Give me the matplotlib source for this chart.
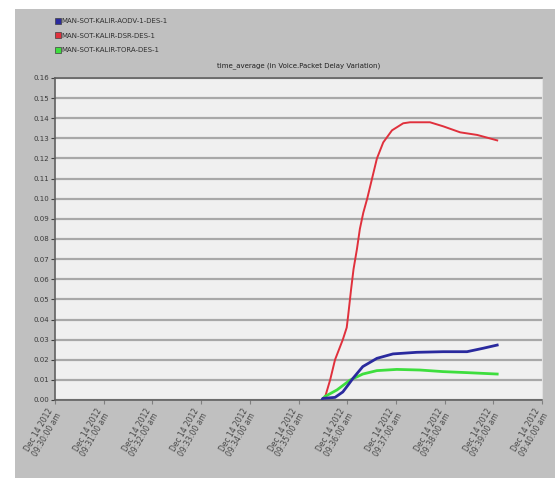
import matplotlib.pyplot as plt
from matplotlib.patches import Rectangle
from matplotlib.lines import Line2D

# scenario names and sampled jitter curves (x = tick index along the time axis)
series_names = ["MAN-SOT-KALIR-AODV-1-DES-1",
                "MAN-SOT-KALIR-DSR-DES-1",
                "MAN-SOT-KALIR-TORA-DES-1"]

aodv_x = [5.48, 5.50, 5.75, 5.91, 6.02, 6.12, 6.32, 6.61, 6.94, 7.43, 7.97, 8.46, 8.79, 9.08]
aodv_y = [0.0, 0.0008, 0.0013, 0.004, 0.0075, 0.0108, 0.0166, 0.0207, 0.0229, 0.0237,
          0.024, 0.024, 0.0257, 0.0273]

dsr_x = [5.48, 5.54, 5.65, 5.75, 5.91, 5.99, 6.02, 6.08, 6.13, 6.20, 6.26, 6.33, 6.41,
         6.51, 6.61, 6.74, 6.92, 7.15, 7.29, 7.70, 7.97, 8.32, 8.67, 9.08]
dsr_y = [0.0, 0.001, 0.010, 0.020, 0.030, 0.036, 0.042, 0.055, 0.065, 0.075, 0.085, 0.093,
         0.100, 0.110, 0.120, 0.128, 0.134, 0.1375, 0.138, 0.138, 0.136, 0.133, 0.1317, 0.129]

tora_x = [5.48, 5.54, 5.79, 6.06, 6.32, 6.61, 7.02, 7.49, 7.97, 8.46, 9.08]
tora_y = [0.0, 0.0017, 0.005, 0.0099, 0.0129, 0.0146, 0.0152, 0.0149, 0.0141, 0.0136, 0.0129]

y_ticks = [i / 100 for i in range(17)]
x_labels = ["Dec 14 2012\n09:%02d:00 am" % m for m in range(30, 41)]

colors = ["#2a2a9e", "#e0303c", "#3ede3e"]

fig = plt.figure(figsize=(5.55, 4.78), dpi=100)
fig.patch.set_facecolor("white")
# grey panel behind everything
fig.patches.append(Rectangle((15 / 555, 0), 1, 469 / 478, transform=fig.transFigure,
                             facecolor="#c0c0c0", edgecolor="none", zorder=-1))

ax = fig.add_axes([55 / 555, 78 / 478, 487 / 555, 322 / 478])
ax.set_zorder(2)
ax.set_facecolor("#f0f0f0")

ax.plot(dsr_x, dsr_y, color=colors[1], lw=1.4, zorder=3)
ax.plot(tora_x, tora_y, color=colors[2], lw=2.0, zorder=3)
ax.plot(aodv_x, aodv_y, color=colors[0], lw=2.0, zorder=4)

ax.set_xlim(0, 10)
ax.set_ylim(0, 0.16)
ax.set_yticks(y_ticks)
ax.set_yticklabels(["%.2f" % v for v in y_ticks], fontsize=5, color="#383838")
ax.set_xticks(range(11))
ax.set_xticklabels(x_labels, fontsize=5.5, color="#484848", rotation=60,
                   ha="right", va="center", rotation_mode="anchor", linespacing=1.0)
ax.tick_params(axis="y", length=3, width=0.8, color="#404040", pad=1)
ax.tick_params(axis="x", length=3, width=0.8, color="#808080", pad=5)
ax.grid(axis="y", color="#a8a8a8", lw=1.6)
ax.set_axisbelow(True)
for side in ["left", "bottom", "top"]:
    ax.spines[side].set_color("#606060")
    ax.spines[side].set_linewidth(1.2)
ax.spines["right"].set_color("#e0e0e0")

ax.set_title("time_average (in Voice.Packet Delay Variation)", fontsize=5,
             color="#202020", pad=8)

handles = [Line2D([], [], marker="s", ls="none", markersize=5, markerfacecolor=c,
                  markeredgecolor="#404040", markeredgewidth=0.5) for c in colors]
fig.legend(handles, series_names, loc="upper left",
           bbox_to_anchor=(52 / 555, 1 - 15 / 478), frameon=False, fontsize=5,
           handlelength=0.6, handletextpad=0.2, labelspacing=1.2, borderpad=0,
           labelcolor="#303030")

fig.savefig("out.png", dpi=100)
